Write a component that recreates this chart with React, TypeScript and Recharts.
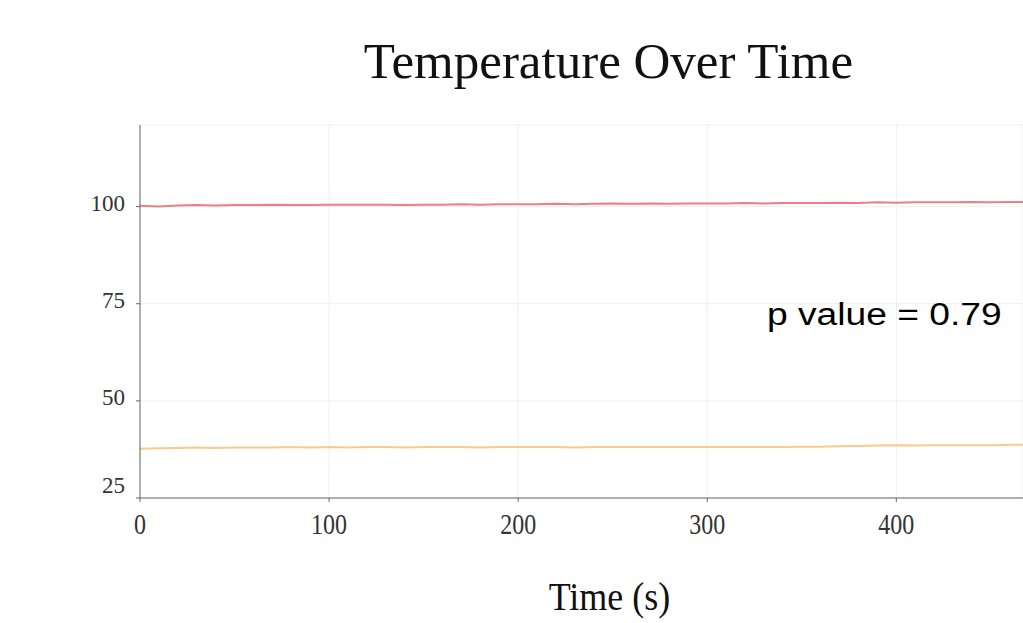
import { LineChart, Line, XAxis, YAxis, CartesianGrid } from 'recharts';

const TIMES = [0, 10, 20, 30, 40, 50, 60, 70, 80, 90, 100, 110, 120, 130, 140, 150, 160, 170, 180, 190, 200, 210, 220, 230, 240, 250, 260, 270, 280, 290, 300, 310, 320, 330, 340, 350, 360, 370, 380, 390, 400, 410, 420, 430, 440, 450, 460, 467];

const HOT = [100.2, 100.0, 100.3, 100.4, 100.3, 100.4, 100.4, 100.5, 100.4, 100.4, 100.5, 100.5, 100.5, 100.5, 100.4, 100.5, 100.5, 100.6, 100.5, 100.6, 100.6, 100.6, 100.7, 100.6, 100.7, 100.8, 100.7, 100.8, 100.7, 100.8, 100.8, 100.8, 100.9, 100.8, 100.9, 100.9, 100.9, 101.0, 100.9, 101.1, 101.0, 101.1, 101.1, 101.1, 101.2, 101.1, 101.2, 101.2];

const COOL = [37.7, 37.8, 37.9, 38.0, 37.9, 38.0, 38.0, 38.0, 38.1, 38.0, 38.1, 38.0, 38.1, 38.1, 38.0, 38.1, 38.1, 38.1, 38.0, 38.1, 38.1, 38.1, 38.1, 38.0, 38.1, 38.1, 38.1, 38.1, 38.1, 38.1, 38.1, 38.1, 38.1, 38.1, 38.1, 38.2, 38.2, 38.3, 38.4, 38.5, 38.6, 38.5, 38.6, 38.6, 38.6, 38.6, 38.7, 38.7];

const X_TICKS = [0, 100, 200, 300, 400];
const Y_TICKS = [25, 50, 75, 100];

const data = TIMES.map((t, i) => ({ t, hot: HOT[i], cool: COOL[i] }));

const serif = '"Liberation Serif", "Times New Roman", serif';

// x labels in the original are a bit stretched vertically
const XTick = ({ x, y, payload }: any) => (
  <text
    transform={`translate(${x},${y}) scale(1,1.2)`}
    x={0}
    y={0}
    dy={27}
    textAnchor="middle"
    fontFamily={serif}
    fontSize={24}
    fill="#333"
  >
    {payload.value}
  </text>
);

const YTick = ({ x, y, payload }: any) => (
  <text
    x={x}
    y={y}
    dy={payload.value === 25 ? -5 : 4}
    textAnchor="end"
    fontFamily={serif}
    fontSize={23}
    fill="#333"
  >
    {payload.value}
  </text>
);

export default function App() {
  return (
    <div style={{ position: 'absolute', left: 0, top: 0, width: 1023, height: 623, background: '#fff', overflow: 'hidden' }}>
      <div style={{ position: 'absolute', left: 0, width: 1023, top: 31, textAlign: 'center', paddingLeft: 194, boxSizing: 'border-box', fontFamily: serif, fontSize: 51, color: '#111', lineHeight: '60px', whiteSpace: 'nowrap' }}>
        Temperature Over Time
      </div>
      <LineChart
        width={1023}
        height={623}
        data={data}
        margin={{ top: 125, right: 0, left: 80, bottom: 95 }}
      >
        <CartesianGrid stroke="#efefef" />
        <XAxis
          dataKey="t"
          type="number"
          domain={[0, 467]}
          ticks={X_TICKS}
          allowDataOverflow
          height={30}
          tick={<XTick />}
          tickSize={4}
          tickMargin={0}
          stroke="#666"
        />
        <YAxis
          type="number"
          domain={[25, 121]}
          ticks={Y_TICKS}
          allowDataOverflow
          width={60}
          tick={<YTick />}
          tickSize={4}
          tickMargin={11}
          stroke="#666"
        />
        <Line type="linear" dataKey="hot" stroke="#ef7d86" strokeWidth={2} dot={false} isAnimationActive={false} />
        <Line type="linear" dataKey="cool" stroke="#fcc98c" strokeWidth={2} dot={false} isAnimationActive={false} />
      </LineChart>
      <div style={{ position: 'absolute', left: 767, top: 300, fontFamily: '"Liberation Sans", Arial, sans-serif', fontSize: 31, lineHeight: '30px', color: '#000', whiteSpace: 'nowrap', transform: 'scaleX(1.2)', transformOrigin: 'left center' }}>
        p value = 0.79
      </div>
      <div style={{ position: 'absolute', left: 0, width: 1023, top: 577, paddingLeft: 196, boxSizing: 'border-box', textAlign: 'center', fontFamily: serif, fontSize: 36, color: '#111', lineHeight: '40px', transform: 'scaleY(1.1)', whiteSpace: 'nowrap' }}>
        Time (s)
      </div>
    </div>
  );
}
